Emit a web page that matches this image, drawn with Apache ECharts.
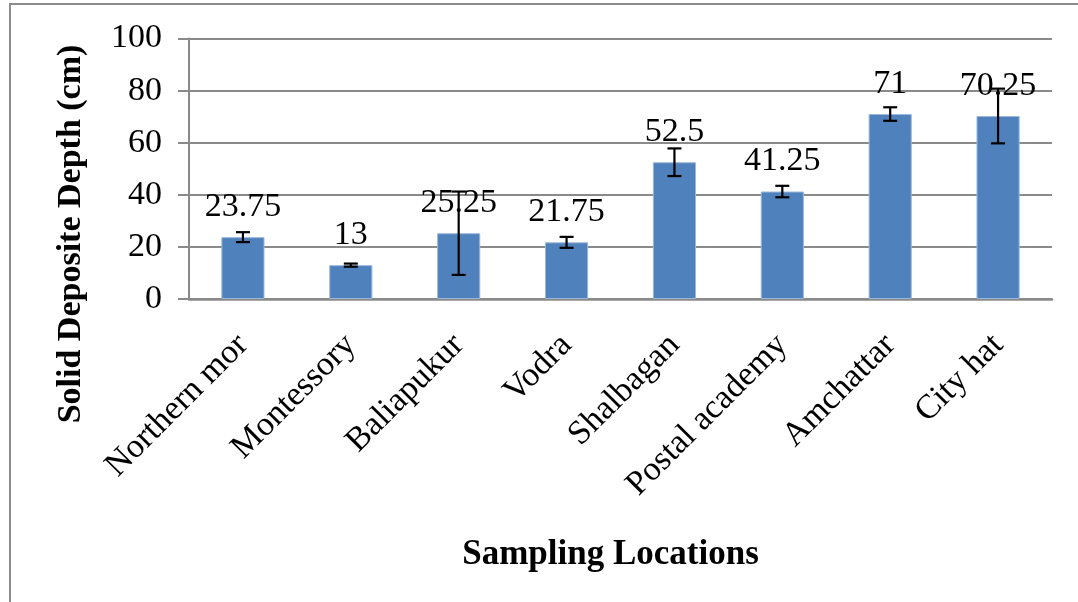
<!DOCTYPE html>
<html>
<head>
<meta charset="utf-8">
<script src="https://cdn.jsdelivr.net/npm/echarts@6/dist/echarts.min.js"></script>
<style>
    html, body { margin: 0; padding: 0; background: #fff; }
    #chart { width: 1078px; height: 602px; }
</style>
</head>
<body>
<div id="chart"></div>
<script>
    // sampling sites and mean solid deposit depth (cm)
    var locations = ['Northern mor', 'Montessory', 'Baliapukur', 'Vodra', 'Shalbagan', 'Postal academy', 'Amchattar', 'City hat']
    var depth = [23.75, 13, 25.25, 21.75, 52.5, 41.25, 71, 70.25]
    // +/- error
    var depthErr = [1.9, 0.6, 16, 2.1, 5.3, 2.2, 2.6, 10.5]
    var yTicks = [0, 20, 40, 60, 80, 100]

    var serif = 'Liberation Serif'
    var gray = '#8a8a8a'

    var errData = depth.map(function (v, i) {
        return [i, v - depthErr[i], v + depthErr[i]]
    })

    var chart = echarts.init(document.getElementById('chart'))
    chart.setOption({
        animation: false,
        grid: {
            left: 189,
            right: 26,
            top: 38.5,
            bottom: 303
        },
        graphic: [
            {
                type: 'rect',
                shape: { x: 10, y: 4, width: 1200, height: 800 },
                style: { fill: 'none', stroke: '#8c8c8c', lineWidth: 2 },
                silent: true
            },
            {
                type: 'text',
                x: 71,
                y: 234,
                rotation: Math.PI / 2,
                style: {
                    text: 'Solid Deposite Depth (cm)',
                    font: 'bold 34px "Liberation Serif"',
                    fill: '#000',
                    align: 'center',
                    verticalAlign: 'middle'
                }
            }
        ],
        xAxis: {
            type: 'category',
            data: locations,
            name: 'Sampling Locations',
            nameLocation: 'middle',
            nameGap: 238,
            nameTextStyle: {
                fontFamily: serif,
                fontWeight: 'bold',
                fontSize: 35,
                color: '#000',
                padding: [0, 20, 0, 0]
            },
            axisLine: { lineStyle: { color: gray, width: 2.5 } },
            axisTick: { length: 8, lineStyle: { color: gray, width: 2 } },
            axisLabel: {
                rotate: 45,
                interval: 0,
                margin: 41,
                fontFamily: serif,
                fontSize: 34,
                color: '#000'
            }
        },
        yAxis: {
            type: 'value',
            min: yTicks[0],
            max: yTicks[yTicks.length - 1],
            interval: 20,
            axisLine: { show: true, lineStyle: { color: gray, width: 2 } },
            axisTick: { show: true, length: 11, lineStyle: { color: gray, width: 2 } },
            splitLine: { lineStyle: { color: gray, width: 2 } },
            axisLabel: {
                margin: 27,
                fontFamily: serif,
                fontSize: 34,
                color: '#000'
            }
        },
        series: [
            {
                type: 'bar',
                data: depth,
                barWidth: '40%',
                itemStyle: {
                    color: '#4f81bd',
                    borderColor: '#9bb7dc',
                    borderWidth: 1
                },
                label: {
                    show: true,
                    position: 'top',
                    distance: 13,
                    fontFamily: serif,
                    fontSize: 34,
                    color: '#000'
                },
                z: 2
            },
            {
                type: 'custom',
                data: errData,
                z: 5,
                renderItem: function (params, api) {
                    var lo = api.coord([api.value(0), api.value(1)])
                    var hi = api.coord([api.value(0), api.value(2)])
                    var cap = 7
                    var st = { stroke: '#000', lineWidth: 2.2 }
                    return {
                        type: 'group',
                        children: [
                            { type: 'line', shape: { x1: hi[0], y1: hi[1], x2: lo[0], y2: lo[1] }, style: st },
                            { type: 'line', shape: { x1: hi[0] - cap, y1: hi[1], x2: hi[0] + cap, y2: hi[1] }, style: st },
                            { type: 'line', shape: { x1: lo[0] - cap, y1: lo[1], x2: lo[0] + cap, y2: lo[1] }, style: st }
                        ]
                    }
                }
            }
        ]
    })
</script>
</body>
</html>
